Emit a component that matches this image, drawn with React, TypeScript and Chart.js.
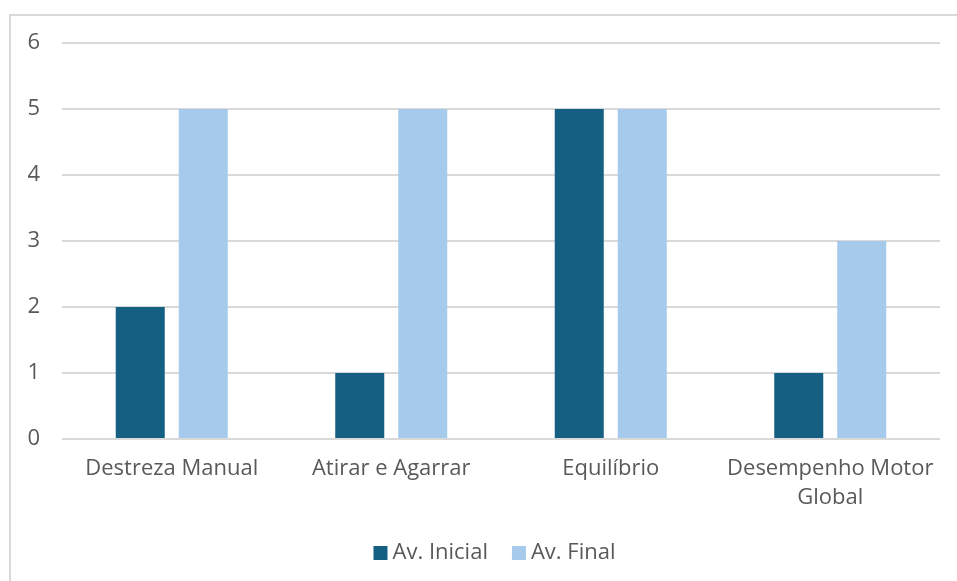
import React, { useEffect, useRef } from "react";
import { Chart, registerables } from "chart.js";

Chart.register(...registerables);

const categories: (string | string[])[] = [
  "Destreza Manual",
  "Atirar e Agarrar",
  "Equilíbrio",
  ["Desempenho Motor", "Global"],
];
const avInicial = [2, 1, 5, 1];
const avFinal = [5, 5, 5, 3];
const yTicks = [0, 1, 2, 3, 4, 5, 6];

const FONT = "'Open Sans', 'Noto Sans', sans-serif";
const TEXT = "#595959";

const bottomLegend = {
  id: "bottomLegend",
  afterDraw(chart: any) {
    const ctx = chart.ctx;
    const ds = chart.data.datasets;
    ctx.save();
    ctx.font = `22px ${FONT}`;
    const box = 14;
    const gap = 5;
    const itemGap = 24;
    const widths = ds.map((d: any) => box + gap + ctx.measureText(d.label).width);
    const total = widths.reduce((a: number, b: number) => a + b, 0) + itemGap * (ds.length - 1);
    let x = chart.width / 2 + 16 - total / 2;
    const cy = 553;
    ds.forEach((d: any, i: number) => {
      ctx.fillStyle = d.backgroundColor;
      ctx.fillRect(x, cy - box / 2, box, box);
      ctx.fillStyle = TEXT;
      ctx.textBaseline = "middle";
      ctx.textAlign = "left";
      ctx.fillText(d.label, x + box + gap, cy);
      x += widths[i] + itemGap;
    });
    ctx.restore();
  },
};

export default function App() {
  const ref = useRef<HTMLCanvasElement>(null);
  useEffect(() => {
    if (!ref.current) return;
    const chart = new Chart(ref.current, {
      type: "bar",
      data: {
        labels: categories,
        datasets: [
          { label: "Av. Inicial", data: avInicial, backgroundColor: "#156082", barPercentage: 0.778, categoryPercentage: 0.574 },
          { label: "Av. Final", data: avFinal, backgroundColor: "#A6CAEC", barPercentage: 0.778, categoryPercentage: 0.574 },
        ],
      },
      plugins: [bottomLegend],
      options: {
        animation: false,
        responsive: false,
        devicePixelRatio: 1,
        layout: { padding: { left: 14, right: 17, top: 43, bottom: 54 } },
        plugins: {
          tooltip: { enabled: false },
          legend: { display: false },
        },
        scales: {
          x: {
            grid: { display: false, drawTicks: false },
            border: { display: false },
            ticks: {
              color: TEXT,
              font: { family: FONT, size: 22, lineHeight: 1.32 },
              padding: 15,
              maxRotation: 0,
              autoSkip: false,
            },
          },
          y: {
            min: 0,
            max: 6,
            afterBuildTicks: (s: any) => {
              s.ticks = yTicks.map((v) => ({ value: v }));
            },
            afterFit: (s: any) => {
              s.width = 48;
            },
            grid: { color: "#d9d9d9", lineWidth: 2, drawTicks: false },
            border: { display: false },
            ticks: {
              color: TEXT,
              font: { family: FONT, size: 22 },
              padding: 22,
            },
          },
        },
      },
    });
    return () => chart.destroy();
  }, []);
  return (
    <div style={{ position: "absolute", left: 0, top: 0, width: 957, height: 581, background: "#fff", overflow: "hidden" }}>
      <div style={{ position: "absolute", left: 9, top: 14, width: 1000, height: 1000, border: "2px solid #d9d9d9", boxSizing: "border-box" }} />
      <canvas ref={ref} width={957} height={581} style={{ position: "absolute", left: 0, top: 0 }} />
    </div>
  );
}
